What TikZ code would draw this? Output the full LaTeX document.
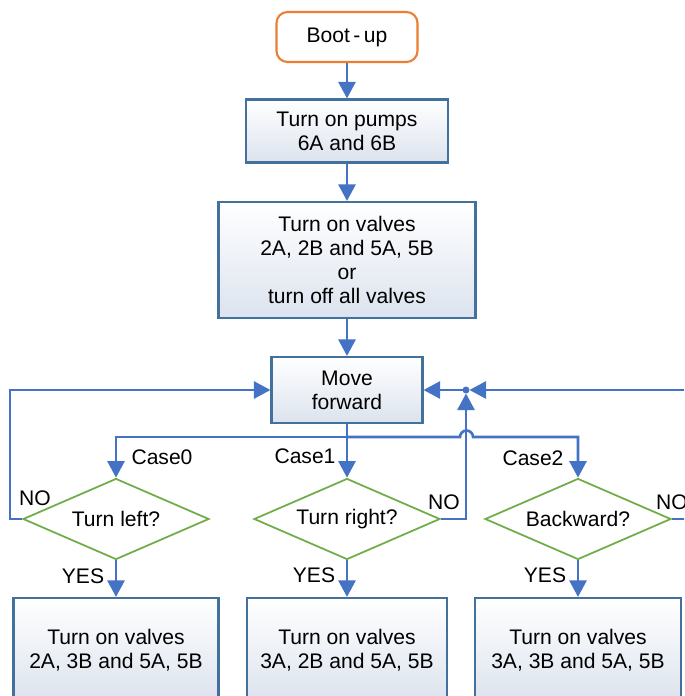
\documentclass[tikz,border=0pt]{standalone}
\usepackage{fontspec}
\setmainfont{Liberation Sans}
\usepackage{xcolor}
\usepackage{tikz}
\usetikzlibrary{arrows.meta,positioning,shapes.geometric}
\definecolor{flowblue}{HTML}{4472C4}
\definecolor{boxedge}{HTML}{41719C}
\definecolor{boxshade}{HTML}{DCE3EE}
\definecolor{startedge}{HTML}{ED7D31}
\definecolor{decedge}{HTML}{70AD47}

\begin{document}
\begin{tikzpicture}[
  x=0.02cm, y=-0.02cm,
  font=\fontsize{12}{13.8}\selectfont,
  procbox/.style={draw=boxedge, line width=1.2pt, top color=white, bottom color=boxshade, align=center, inner sep=2pt},
  startbox/.style={draw=startedge, line width=1.2pt, fill=white, rounded corners=0.22cm, minimum width=2.82cm, minimum height=1cm},
  decbox/.style={diamond, draw=decedge, line width=1pt, fill=white, aspect=2.3, inner sep=0pt, minimum width=3.72cm, minimum height=1.62cm},
  flow/.style={draw=flowblue, line width=1.5pt, -{Triangle[length=0.33cm, width=0.34cm]}},
  link/.style={draw=flowblue, line width=1.5pt},
  lbl/.style={inner sep=0pt}
]
\useasboundingbox (0,0) rectangle (684,696);
\clip (0,0) rectangle (684,696);

% main column
\node[startbox] (boot) at (347,37) {Boot\,-\,up};
\node[procbox, minimum width=4.04cm, minimum height=1.26cm] (pumps) at (347,131) {Turn on pumps\\6A and 6B};
\node[procbox, minimum width=5.14cm, minimum height=2.32cm] (valves) at (347,260) {Turn on valves\\2A, 2B and 5A, 5B\\or\\turn off all valves};
\node[procbox, minimum width=3.02cm, minimum height=1.32cm] (move) at (347,390) {Move\\forward};

\draw[flow] (boot) -- (pumps);
\draw[flow] (pumps) -- (valves);
\draw[flow] (valves) -- (move);

% the three cases
\foreach \i/\x/\w/\q/\act in {
  0/116/4.1cm/Turn left?/{2A, 3B and 5A, 5B},
  1/347/4.0cm/Turn right?/{3A, 2B and 5A, 5B},
  2/578/4.12cm/Backward?/{3A, 3B and 5A, 5B}
}{
  \node[decbox] (dec\i) at (\x,519) {\q};
  \node[procbox, minimum width=\w, minimum height=2.08cm] (act\i) at (\x,650) {Turn on valves\\\act};
  \draw[flow] (dec\i) -- (act\i);
}

% branching below "Move forward"
\coordinate (split) at (347,437);
\coordinate (hop) at (460,437);
\draw[link] (move) -- (split);
\draw[flow] (split) -| (dec0);
\draw[flow] (split) -- (dec1);
\draw[flow] (split) -- (hop) arc[start angle=180, end angle=0, radius=0.13cm] -| (dec2);

% NO loops back
\coordinate (loopL) at (10,519);
\coordinate (loopR) at (710,519);
\coordinate (join) at (466,390);
\draw[flow] (dec0) -- (loopL) |- (move);
\fill[flowblue] (join) circle[radius=0.07cm];
\draw[flow] (join) -- (move);
\draw[flow, shorten >=0.07cm] (dec1) -| (join);
\draw[flow, shorten >=0.07cm] (dec2) -- (loopR) |- (join);

% labels
\node[lbl] (case0) at (162,457) {Case0};
\node[lbl] (case1) at (305,456) {Case1};
\node[lbl] (case2) at (533,458) {Case2};
\node[lbl] (no0) at (35,498) {NO};
\node[lbl] (no1) at (444,502) {NO};
\node[lbl] (no2) at (672,502) {NO};
\node[lbl] (yes0) at (83,576) {YES};
\node[lbl] (yes1) at (314,575) {YES};
\node[lbl] (yes2) at (545,575) {YES};
\end{tikzpicture}
\end{document}
